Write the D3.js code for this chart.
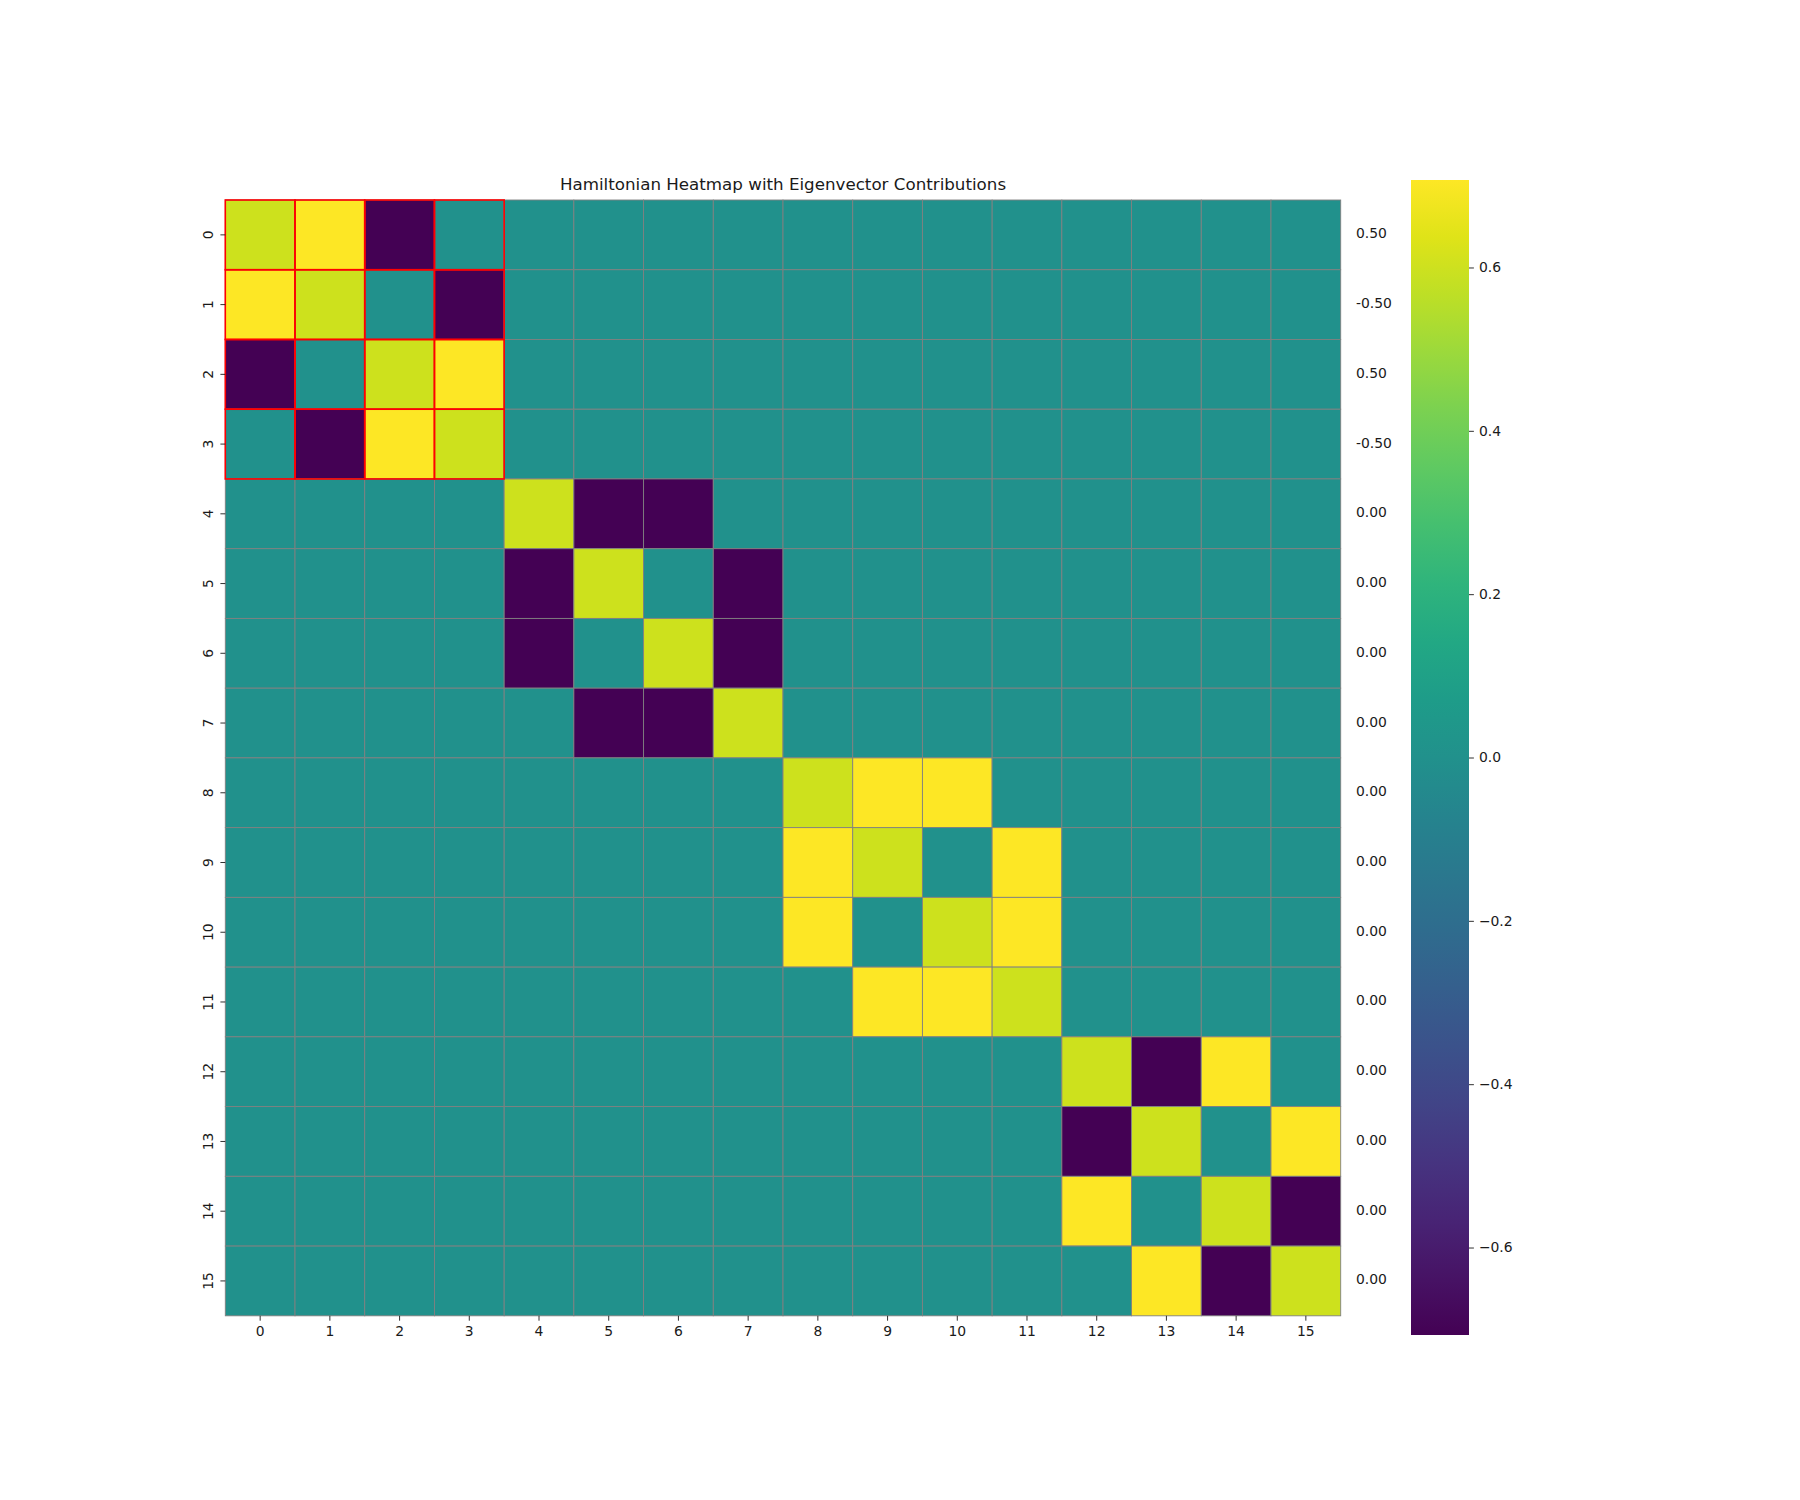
<!DOCTYPE html>
<html><head><meta charset="utf-8">
<script src="https://cdn.jsdelivr.net/npm/d3@7"></script>
<style>body{margin:0;background:#fff}text{font-family:"DejaVu Sans",sans-serif;fill:#1a1a1a}</style>
</head><body><svg id="c" width="1800" height="1500"></svg>
<script>
const A = 0.7071, B = 0.6;
const labels = d3.range(16).map(String);
const rightLabels = ["0.50","-0.50","0.50","-0.50","0.00","0.00","0.00","0.00","0.00","0.00","0.00","0.00","0.00","0.00","0.00","0.00"];
const block0 = [[B,A,-A,0],[A,B,0,-A],[-A,0,B,A],[0,-A,A,B]];
const block1 = [[B,-A,-A,0],[-A,B,0,-A],[-A,0,B,-A],[0,-A,-A,B]];
const block2 = [[B,A,A,0],[A,B,0,A],[A,0,B,A],[0,A,A,B]];
const block3 = [[B,-A,A,0],[-A,B,0,A],[A,0,B,-A],[0,A,-A,B]];
const blocks = [block0, block1, block2, block3];
const highlightRows = [0,1,2,3], highlightCols = [0,1,2,3];
const cbTicks = [-0.6,-0.4,-0.2,0.0,0.2,0.4,0.6];
const vmin = -0.7071, vmax = 0.7071;
const title = "Hamiltonian Heatmap with Eigenvector Contributions";

// build matrix
const cells = [];
for (let i = 0; i < 16; i++) for (let j = 0; j < 16; j++) {
  const bi = Math.floor(i/4), bj = Math.floor(j/4);
  const v = bi === bj ? blocks[bi][i%4][j%4] : 0;
  cells.push({r:i, c:j, v});
}

const svg = d3.select("#c");
const L = 225.3, R = 1340.7, T = 200, Bt = 1315.8;
const x = d3.scaleBand().domain(labels).range([L, R]);
const y = d3.scaleBand().domain(labels).range([T, Bt]);
const color = d3.scaleSequential(d3.interpolateViridis).domain([vmin, vmax]);

svg.append("g").selectAll("rect").data(cells).join("rect")
  .attr("x", d => x(labels[d.c])).attr("y", d => y(labels[d.r]))
  .attr("width", x.bandwidth()).attr("height", y.bandwidth())
  .attr("fill", d => color(d.v)).attr("stroke", "#808080").attr("stroke-width", 0.9);

// red highlight
const hl = cells.filter(d => highlightRows.includes(d.r) && highlightCols.includes(d.c));
svg.append("g").selectAll("rect").data(hl).join("rect")
  .attr("x", d => x(labels[d.c])).attr("y", d => y(labels[d.r]))
  .attr("width", x.bandwidth()).attr("height", y.bandwidth())
  .attr("fill", "none").attr("stroke", "red").attr("stroke-width", 1.6);

// x axis
const xa = svg.append("g");
labels.forEach(l => {
  const cx = x(l) + x.bandwidth()/2;
  xa.append("line").attr("x1", cx).attr("x2", cx).attr("y1", Bt).attr("y2", Bt+4.9).attr("stroke", "#1a1a1a").attr("stroke-width", 0.9);
  xa.append("text").attr("x", cx).attr("y", Bt+20.5).attr("text-anchor", "middle").attr("font-size", 13.9).text(l);
});
// y axis
const ya = svg.append("g");
labels.forEach(l => {
  const cy = y(l) + y.bandwidth()/2;
  ya.append("line").attr("x1", L-4.9).attr("x2", L).attr("y1", cy).attr("y2", cy).attr("stroke", "#1a1a1a").attr("stroke-width", 0.9);
  ya.append("text").attr("transform", `translate(${L-12.5},${cy}) rotate(-90)`).attr("text-anchor", "middle").attr("font-size", 13.9).text(l);
});
// right labels
labels.forEach((l, i) => {
  const cy = y(l) + y.bandwidth()/2;
  svg.append("text").attr("x", 1356).attr("y", cy + 3.5).attr("font-size", 13.9).text(rightLabels[i]);
});

// title
svg.append("text").attr("x", (L+R)/2).attr("y", 189.5).attr("text-anchor", "middle").attr("font-size", 16.7).text(title);

// colorbar
const cbL = 1411, cbR = 1469, cbT = 180, cbB = 1335;
const cy = d3.scaleLinear().domain([vmin, vmax]).range([cbB, cbT]);
const defs = svg.append("defs");
const grad = defs.append("linearGradient").attr("id", "g").attr("x1", 0).attr("y1", 1).attr("x2", 0).attr("y2", 0);
d3.range(0, 1.0001, 0.05).forEach(t => grad.append("stop").attr("offset", t).attr("stop-color", d3.interpolateViridis(t)));
svg.append("rect").attr("x", cbL).attr("y", cbT).attr("width", cbR-cbL).attr("height", cbB-cbT).attr("fill", "url(#g)");
const cba = svg.append("g").attr("transform", `translate(${cbR},0)`)
  .call(d3.axisRight(cy).tickValues(cbTicks).tickSize(4.9).tickPadding(5).tickFormat(d => d3.format(".1f")(d).replace("-", "\u2212")));
cba.select(".domain").remove();
cba.selectAll("line").attr("stroke", "#1a1a1a").attr("stroke-width", 0.9);
cba.selectAll("text").attr("font-size", 13.9).attr("font-family", "DejaVu Sans").attr("fill", "#1a1a1a");
</script></body></html>
